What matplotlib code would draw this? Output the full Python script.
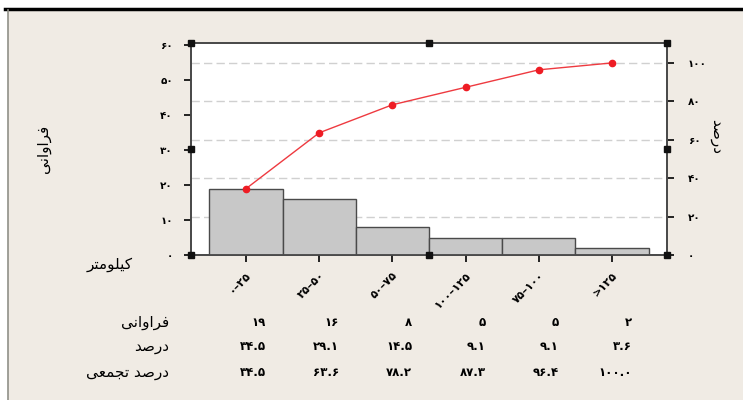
import numpy as np
import matplotlib.pyplot as plt
from matplotlib.patches import Rectangle
from matplotlib.lines import Line2D
from matplotlib.transforms import blended_transform_factory

# Datos del diagrama de Pareto
categorias = ['۰–۲۵', '۲۵–۵۰', '۵۰–۷۵', '۱۰۰–۱۲۵', '۷۵–۱۰۰', '>۱۲۵']
frecuencias = [19, 16, 8, 5, 5, 2]
porcentajes = [34.5, 29.1, 14.5, 9.1, 9.1, 3.6]
acumulados = [34.5, 63.6, 78.2, 87.3, 96.4, 100.0]
total = 55

etiqueta_y = 'فراوانی'
etiqueta_y2 = 'درصد'
etiqueta_x = 'کیلومتر'
filas = ['فراوانی', 'درصد', 'درصد تجمعی']

# Formas de presentación (aislada, final, inicial, medial)
formas = {
    'ا': ('\uFE8D', '\uFE8E', None, None),
    'د': ('\uFEA9', '\uFEAA', None, None),
    'ر': ('\uFEAD', '\uFEAE', None, None),
    'و': ('\uFEED', '\uFEEE', None, None),
    'ف': ('\uFED1', '\uFED2', '\uFED3', '\uFED4'),
    'ن': ('\uFEE5', '\uFEE6', '\uFEE7', '\uFEE8'),
    'ی': ('\uFEEF', '\uFEF0', '\uFEF3', '\uFEF4'),
    'ص': ('\uFEB9', '\uFEBA', '\uFEBB', '\uFEBC'),
    'ت': ('\uFE95', '\uFE96', '\uFE97', '\uFE98'),
    'ج': ('\uFE9D', '\uFE9E', '\uFE9F', '\uFEA0'),
    'م': ('\uFEE1', '\uFEE2', '\uFEE3', '\uFEE4'),
    'ع': ('\uFEC9', '\uFECA', '\uFECB', '\uFECC'),
    'ک': ('\uFED9', '\uFEDA', '\uFEDB', '\uFEDC'),
    'ل': ('\uFEDD', '\uFEDE', '\uFEDF', '\uFEE0'),
}


def persa(texto):
    # une las letras y las pone en orden visual
    salida = []
    for i, c in enumerate(texto):
        if c not in formas:
            salida.append(c)
            continue
        ant = texto[i - 1] if i > 0 else ''
        sig = texto[i + 1] if i + 1 < len(texto) else ''
        une_ant = ant in formas and formas[ant][2] is not None
        une_sig = sig in formas and formas[c][2] is not None
        if une_ant and une_sig:
            salida.append(formas[c][3])
        elif une_sig:
            salida.append(formas[c][2])
        elif une_ant:
            salida.append(formas[c][1])
        else:
            salida.append(formas[c][0])
    return ''.join(reversed(salida))


digitos = str.maketrans('0123456789', '۰۱۲۳۴۵۶۷۸۹')


def num(v):
    return str(v).translate(digitos)


plt.rcParams['font.family'] = ['DejaVu Sans', 'Noto Sans']

fondo = '#f0ebe4'
gris = '#4a4a4a'

fig = plt.figure(figsize=(7.43, 4.0), dpi=100)
fig.patch.set_facecolor('white')
fig.patches.append(Rectangle((8 / 743, 0), 1, 390 / 400, transform=fig.transFigure,
                             facecolor=fondo, edgecolor='none', zorder=-2))
fig.add_artist(Line2D([5 / 743, 1], [391 / 400, 391 / 400], color='black', lw=2.5))
fig.add_artist(Line2D([8 / 743, 8 / 743], [0, 390 / 400], color='#909088', lw=1.2))

ax = fig.add_axes([191 / 743, 145 / 400, 476 / 743, 212 / 400])
ax2 = ax.twinx()

x = np.arange(len(categorias))
ymax = 60.7
ax.set_ylim(0, ymax)
ax2.set_ylim(0, ymax / total * 100)
ax.set_xlim(-0.75, len(categorias) - 0.25)

# líneas de la cuadrícula del eje derecho
for v in range(20, 101, 20):
    ax2.axhline(v, color='#d0d0d0', lw=1, dashes=(6, 3), zorder=0)

ax.bar(x, frecuencias, width=1, color='#c8c8c8', edgecolor=gris, lw=1, zorder=2)
ax.set_zorder(ax2.get_zorder() + 1)
ax.patch.set_visible(False)
ax2.patch.set_visible(True)
ax2.patch.set_facecolor('white')

ax.plot(x, np.array(acumulados) / 100 * total, color='#ee3a40', lw=1,
        marker='o', ms=4.5, mfc='#ee1c24', mec='#ee1c24', zorder=3)

ax.set_yticks(range(0, 61, 10))
ax.set_yticklabels([num(v) for v in range(0, 61, 10)], fontsize=7.5, fontweight='bold')
ax2.set_yticks(range(0, 101, 20))
ax2.set_yticklabels([num(v) for v in range(0, 101, 20)], fontsize=7.5, fontweight='bold')
ax.set_xticks(x)
ax.set_xticklabels(categorias, rotation=45, ha='right', rotation_mode='anchor',
                   fontsize=8, fontweight='bold')

for a in (ax, ax2):
    for s in a.spines.values():
        s.set_color(gris)
        s.set_linewidth(1.3)
    a.tick_params(colors='black', length=5, width=1.2)
ax.tick_params(axis='x', pad=6)
ax.tick_params(axis='y', pad=8)
ax2.tick_params(axis='y', pad=10)

ax.text(-0.31, 0.5, persa(etiqueta_y), rotation=90, transform=ax.transAxes,
        ha='center', va='center', fontsize=11)
ax2.text(1.105, 0.56, persa(etiqueta_y2), rotation=270, transform=ax.transAxes,
         ha='center', va='center', fontsize=11)
fig.text(110 / 743, 1 - 265 / 400, persa(etiqueta_x), ha='center', va='center', fontsize=11)

# manijas de selección
hx = [0, 0.5, 1, 0, 1, 0, 0.5, 1]
hy = [0, 0, 0, 0.5, 0.5, 1, 1, 1]
ax.plot(hx, hy, 's', color='#111111', ms=5, transform=ax.transAxes, clip_on=False, zorder=5)

# tabla inferior
tr = blended_transform_factory(ax.transData, fig.transFigure)
filas_y = [1 - 322 / 400, 1 - 346 / 400, 1 - 372 / 400]
valores = [[num(v) for v in frecuencias],
           [num(f'{v:.1f}') for v in porcentajes],
           [num(f'{v:.1f}') for v in acumulados]]
for fy, nombre, vals in zip(filas_y, filas, valores):
    fig.text(169 / 743, fy, persa(nombre), ha='right', va='center', fontsize=11)
    for xi, v in zip(x, vals):
        ax.text(xi + 0.27, fy, v, transform=tr, ha='right', va='center',
                fontsize=8.5, fontweight='bold')

fig.savefig('out.png', dpi=100, facecolor=fig.get_facecolor())
